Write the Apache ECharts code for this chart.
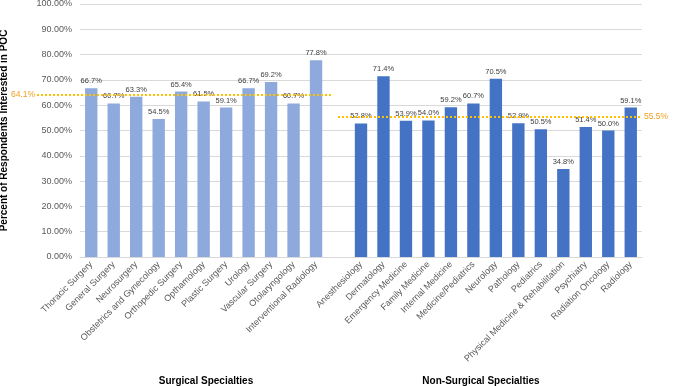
<!DOCTYPE html>
<html><head><meta charset="utf-8">
<script src="https://cdn.jsdelivr.net/npm/echarts@6/dist/echarts.min.js"></script>
<style>html,body{margin:0;padding:0;background:#fff}#c{width:676px;height:386px}</style>
</head><body><div id="c"></div>
<script>
const surgicalCategories = ["Thoracic Surgery","General Surgery","Neurosurgery","Obstetrics and Gynecology","Orthopedic Surgery","Opthamology","Plastic Surgery","Urology","Vascular Surgery","Otolaryngology","Interventional Radiology"];
const surgicalValues = [66.7,60.7,63.3,54.5,65.4,61.5,59.1,66.7,69.2,60.7,77.8];
const nonSurgicalCategories = ["Anesthesiology","Dermatology","Emergency Medicine","Family Medicine","Internal Medicine","Medicine/Pediatrics","Neurology","Pathology","Pediatrics","Physical Medicine & Rehabilitation","Psychiatry","Radiation Oncology","Radiology"];
const nonSurgicalValues = [52.8,71.4,53.9,54.0,59.2,60.7,70.5,52.9,50.5,34.8,51.4,50.0,59.1];
const surgicalAverage = 64.1;
const nonSurgicalAverage = 55.5;
const yTicks = {min:0, max:100, interval:10};

const categories = surgicalCategories.concat([""], nonSurgicalCategories);
const gap = ['-'];
const sData = surgicalValues.concat(gap, nonSurgicalCategories.map(()=>'-'));
const nData = surgicalCategories.map(()=>'-').concat(gap, nonSurgicalValues);

const FONT = '"Liberation Sans", Arial, sans-serif';
const chart = echarts.init(document.getElementById('c'), null, {renderer:'canvas'});
const barLabel = {show:true, position:'top', distance:3, color:'#404040', fontSize:7.5, fontFamily:FONT, formatter:p=>Number(p.value).toFixed(1)+'%'};
const lineStyle = {color:'#FFC000', type:[2,2], width:2};
chart.setOption({
  animation:false,
  textStyle:{fontFamily:FONT},
  grid:{left:80, right:34, top:4, bottom:129, containLabel:false, outerBoundsMode:'none'},
  title:[
    {text:'Surgical Specialties', left:201, top:371, textAlign:'center', textStyle:{fontSize:10, fontWeight:'bold', color:'#000', fontFamily:FONT}},
    {text:'Non-Surgical Specialties', left:476, top:371, textAlign:'center', textStyle:{fontSize:10, fontWeight:'bold', color:'#000', fontFamily:FONT}}
  ],
  xAxis:{type:'category', data:categories, axisTick:{show:false},
    axisLine:{lineStyle:{color:'#D9D9D9'}},
    axisLabel:{rotate:45, interval:0, fontSize:9, color:'#595959', fontFamily:FONT, margin:6}},
  yAxis:{type:'value', min:yTicks.min, max:yTicks.max, interval:yTicks.interval,
    name:'Percent of Respondents Interested in POC', nameLocation:'middle', nameRotate:90, nameGap:71,
    nameTextStyle:{fontSize:10, fontWeight:'bold', color:'#000', fontFamily:FONT},
    axisLabel:{fontSize:9, color:'#595959', formatter:v=>v.toFixed(2)+'%', margin:8},
    splitLine:{lineStyle:{color:'#D9D9D9'}}, axisLine:{show:false}, axisTick:{show:false}},
  series:[
    {type:'bar', stack:'s', data:sData, barWidth:'55%', itemStyle:{color:'#8EA9DB'}, label:barLabel,
     markLine:{symbol:'none', silent:true, lineStyle:lineStyle,
       label:{position:'start', formatter:surgicalAverage.toFixed(1)+'%', color:'#F0A020', fontSize:8.5, fontFamily:FONT, distance:2},
       data:[[{x:37, yAxis:surgicalAverage},{x:332, yAxis:surgicalAverage}]]}},
    {type:'bar', stack:'s', data:nData, barWidth:'55%', itemStyle:{color:'#4472C4'}, label:barLabel,
     markLine:{symbol:'none', silent:true, lineStyle:lineStyle,
       label:{position:'end', formatter:nonSurgicalAverage.toFixed(1)+'%', color:'#F0A020', fontSize:8.5, fontFamily:FONT, distance:3},
       data:[[{x:338, yAxis:nonSurgicalAverage},{x:641, yAxis:nonSurgicalAverage}]]}}
  ]
});
</script></body></html>
